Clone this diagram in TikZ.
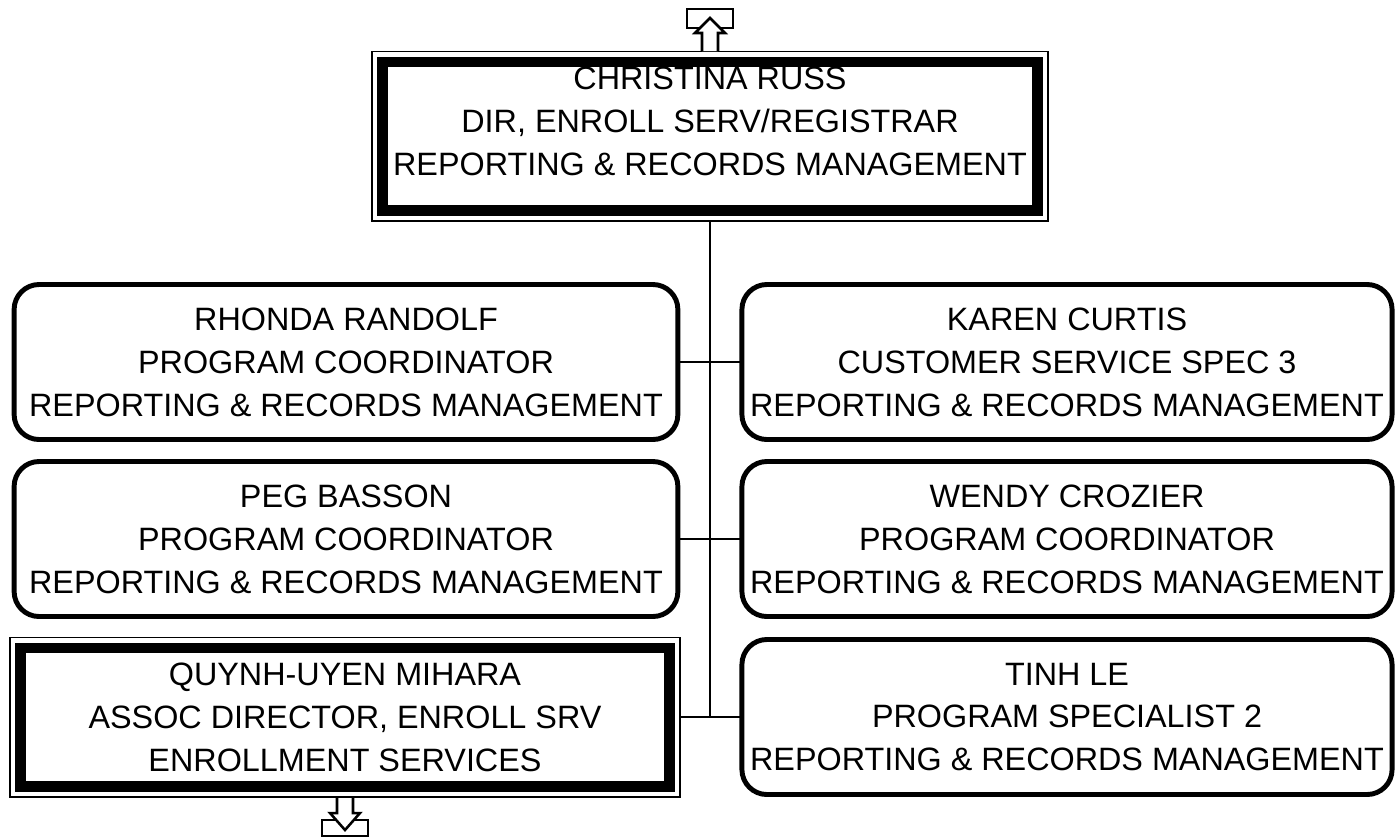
\documentclass[tikz,border=0pt]{standalone}
\usepackage{fontspec}
\setmainfont{Liberation Sans}
\usetikzlibrary{fit}

\tikzset{
  person/.style={draw, line width=3.5pt, rounded corners=0.625cm, minimum height=3.875cm, inner sep=2pt, align=center, outer sep=0pt},
  headbox/.style={draw, line width=7.8pt, inner ysep=0pt, inner xsep=2pt, align=center, outer sep=0pt},
  frame/.style={draw, line width=1.4pt, inner sep=0.2625cm, outer sep=0pt},
  link/.style={line width=1.4pt},
  pagemark/.style={line width=1.8pt, fill=white}
}

\begin{document}
\begin{tikzpicture}[x=0.025cm, y=-0.025cm, font=\fontsize{23}{30.5}\selectfont]
\useasboundingbox[fill=white] (0,0) rectangle (1395,838);

\node[headbox, minimum width=16.35cm, minimum height=3.7cm, text depth=0.75cm] (russ) at (710,136) {CHRISTINA RUSS\\DIR, ENROLL SERV/REGISTRAR\\REPORTING \& RECORDS MANAGEMENT};
\node[frame, fit=(russ)] (russframe) {};

\node[person, minimum width=16.59cm] (randolf) at (346,362) {RHONDA RANDOLF\\PROGRAM COORDINATOR\\REPORTING \& RECORDS MANAGEMENT};
\node[person, minimum width=16.59cm] (basson) at (346,539) {PEG BASSON\\PROGRAM COORDINATOR\\REPORTING \& RECORDS MANAGEMENT};
\node[headbox, minimum width=16.2cm, minimum height=3.45cm] (mihara) at (345,717) {QUYNH-UYEN MIHARA\\ASSOC DIRECTOR, ENROLL SRV\\ENROLLMENT SERVICES};
\node[frame, fit=(mihara)] (miharaframe) {};

\node[person, minimum width=16.25cm] (curtis) at (1067,362) {KAREN CURTIS\\CUSTOMER SERVICE SPEC 3\\REPORTING \& RECORDS MANAGEMENT};
\node[person, minimum width=16.25cm] (crozier) at (1067,539) {WENDY CROZIER\\PROGRAM COORDINATOR\\REPORTING \& RECORDS MANAGEMENT};
\node[person, minimum width=16.25cm] (le) at (1067,717) {TINH LE\\PROGRAM SPECIALIST 2\\REPORTING \& RECORDS MANAGEMENT};

\draw[link] (russframe.south) -- (russframe.south |- le.west);
\draw[link] (randolf.east) -- (curtis.west);
\draw[link] (basson.east) -- (crozier.west);
\draw[link] (miharaframe.east) -- (le.west);

% off-page marks
\draw[pagemark] (687,9) rectangle (733,28);
\draw[pagemark] (702,51) -- (702,33) -- (695,33) -- (710,18) -- (725,33) -- (718,33) -- (718,51);
\draw[pagemark] (322,820) rectangle (368,836);
\draw[pagemark] (337,798) -- (337,813) -- (330,813) -- (345,830) -- (360,813) -- (353,813) -- (353,798);
\end{tikzpicture}
\end{document}
